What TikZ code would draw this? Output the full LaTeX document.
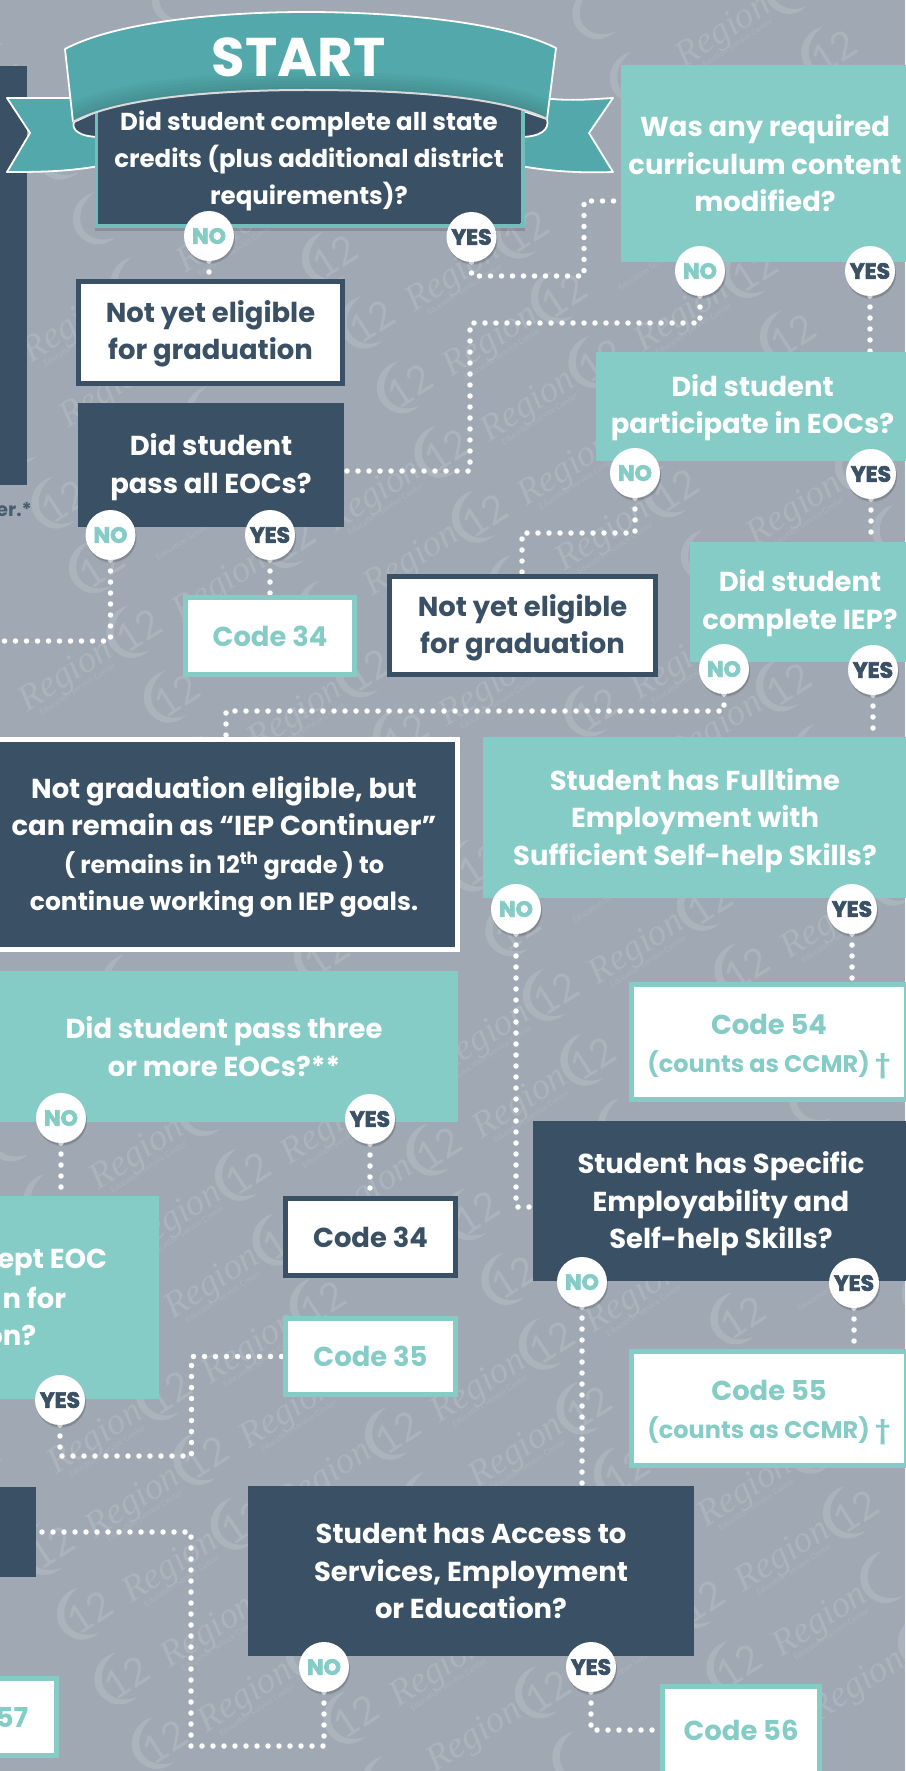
\documentclass[tikz,border=0pt]{standalone}
\usepackage{fontspec}
\setmainfont{Poppins}
\newfontfamily\wmfont{Liberation Serif}
\newfontfamily\numfont{Lato}
\newfontfamily\bubfont{Poppins}[BoldFeatures={FakeBold=3}]
\usetikzlibrary{shadows}
\definecolor{pagebg}{HTML}{A0A9B3}
\definecolor{wmcol}{HTML}{ABB3BC}
\definecolor{tealq}{HTML}{85CCC7}
\definecolor{darkq}{HTML}{3A5064}
\definecolor{ribbon}{HTML}{52A8AA}
\pgfdeclarelayer{under}
\pgfsetlayers{under,main}
\newcommand{\dn}[1]{\rule{0pt}{\dimexpr 20pt+#1pt+#1pt\relax}}
\tikzset{
  txt/.style={align=center,inner sep=0pt,outer sep=0pt,font=\fontsize{27.4}{37.4}\selectfont\bfseries},
  qdark/.style={txt,fill=darkq,text=white},
  qteal/.style={txt,fill=tealq,text=white},
  boxdark/.style={txt,fill=white,draw=darkq,line width=5pt,text=darkq},
  boxteal/.style={txt,fill=white,draw=tealq,line width=5pt,text=tealq},
  boxnote/.style={txt,fill=darkq,draw=white,line width=5pt,text=white},
  size/.style n args={2}{minimum width=#1,minimum height=#2},
  bubble/.style={circle,fill=white,minimum size=50pt,inner sep=0pt,outer sep=0pt,
    font=\fontsize{22}{24}\selectfont\bubfont\bfseries,
    drop shadow={shadow xshift=1pt,shadow yshift=-3pt,opacity=.08,fill=black,scale=1.12},
    drop shadow={shadow xshift=1pt,shadow yshift=-2pt,opacity=.12,fill=black,scale=1.05}},
  nob/.style={bubble,text=tealq},
  yesb/.style={bubble,text=darkq},
  dots/.style={draw=white,line width=5.5pt,line cap=round,dash pattern=on 0pt off 11pt},
  ribline/.style={draw=white,line width=1.8pt,line join=round},
  wmtext/.style={text=wmcol,inner sep=0pt,transform shape},
}
\newif\ifcovered
\newcommand{\testcovered}[2]{%
  \global\coveredfalse
  \foreach \a/\b/\c/\d in {0/66/27/485,76/279/345/386,78/403/344/527,621/65/905/262,596/352/905/461,690/542/905/662,387/574/658/677,182/595/357/677,0/737/460/952,483/737/905/898,629/982/905/1102,533/1121/905/1281,629/1349/905/1468,248/1486/694/1656,660/1684/822/1771,0/1676/60/1758,0/1487/36/1577,0/971/458/1122,0/1196/159/1399,283/1196/458/1278,283/1316/458/1397,60/10/615/228}{%
    \ifdim#1pt>\a pt \ifdim#1pt<\c pt \ifdim#2pt>\b pt \ifdim#2pt<\d pt \global\coveredtrue\fi\fi\fi\fi}}
\newcommand{\wmark}[2]{%
  \pgfmathsetmacro{\rx}{#1-65}\pgfmathsetmacro{\ry}{#2+42}
  \pgfmathsetmacro{\sx}{#1-63}\pgfmathsetmacro{\sy}{#2+59}
  \pgfmathtruncatemacro{\showN}{(#1>22)&&(#1<883)&&(#2>22)&&(#2<1749)?1:0}
  \pgfmathtruncatemacro{\showR}{(\rx>42)&&(\rx<863)&&(\ry>27)&&(\ry<1744)?1:0}
  \pgfmathtruncatemacro{\showS}{(\sx>45)&&(\sx<860)&&(\sy>30)&&(\sy<1741)?1:0}
  \begin{scope}[shift={(#1,#2)},rotate=33,x=1pt,y=1pt]
    \fill[wmcol] (10,25) .. controls (-12,33) and (-34,12) .. (-24,-10)
      .. controls (-20,-20) and (-10,-26) .. (4,-24)
      .. controls (-8,-22) and (-17,-14) .. (-19,-4)
      .. controls (-22,10) and (-8,24) .. (10,25) -- cycle;
    \testcovered{#1}{#2}
    \ifnum\showN=1 \ifcovered\else
      \node[wmtext,font=\fontsize{39}{40}\selectfont\numfont] at (6,-2) {12};
    \fi\fi
    \testcovered{\rx}{\ry}
    \ifnum\showR=1 \ifcovered\else
      \node[wmtext,font=\fontsize{37}{38}\selectfont\wmfont\itshape,anchor=east] at (-27,-1) {Region};
    \fi\fi
    \testcovered{\sx}{\sy}
    \ifnum\showS=1 \ifcovered\else
      \node[wmtext,font=\fontsize{8}{9}\selectfont\numfont,anchor=east] at (-33,-17) {Education Service Center};
    \fi\fi
  \end{scope}}
\begin{document}
\begin{tikzpicture}[x=1pt,y=-1pt]
\useasboundingbox (0,0) rectangle (905,1771);
\begin{pgfonlayer}{under}
  \fill[pagebg] (0,0) rectangle (905,1771);
  \begin{scope}
    \clip (0,0) rectangle (905,1771);
    \foreach \i in {-7,...,7}{\foreach \j in {-8,...,26}{
      \pgfmathsetmacro{\wx}{520+154*\i+37.5*\j}
      \pgfmathsetmacro{\wy}{233-90*\i+64.7*\j}
      \pgfmathtruncatemacro{\keep}{(\wx>-40)&&(\wx<1020)&&(\wy>-70)&&(\wy<1850)?1:0}
      \ifnum\keep=1 \wmark{\wx}{\wy}\fi
    }}
  \end{scope}
\end{pgfonlayer}

\node[qdark,size={40}{419}] (leftA) at (7,275.5) {};

% side pieces of the ribbon
\draw[ribline,fill=ribbon] (110,98) -- (7,98) -- (30,133) -- (7,172)
  .. controls (40,172) and (70,172) .. (110,164) -- cycle;
\draw[ribline,fill=ribbon] (510,99) -- (552,99) .. controls (575,101) and (595,99) .. (613,98) -- (589,133) -- (613,172)
  .. controls (580,173) and (550,172) .. (510,164) -- cycle;
\draw[ribline,fill=darkq] (74,122) .. controls (71,130) and (80,137) .. (100,137) -- (100,110) -- cycle;
\draw[ribline,fill=darkq] (547,119) .. controls (550,130) and (540,137) .. (520,137) -- (520,110) -- cycle;

% question under the ribbon
\fill[tealq!60!ribbon,drop shadow={shadow xshift=0pt,shadow yshift=-3pt,opacity=.15,fill=black}] (95,100) rectangle (525,228);
\fill[darkq] (99,85) rectangle (521,223);
\node[qdark,size={422}{127},font=\fontsize{24.5}{37.4}\selectfont\bfseries] (qS) at (309,161)
  {Did student complete all state\\credits (plus additional district\\requirements)?};

% front of the ribbon
\begin{scope}
  \clip (65,49) .. controls (120,20) and (230,12) .. (306,12) .. controls (385,12) and (500,20) .. (556,48)
     -- (547,119) .. controls (500,96) and (400,90) .. (306,90) .. controls (230,90) and (120,96) .. (73,122) -- cycle;
  \fill[ribbon] (60,5) rectangle (560,125);
  \foreach \w in {36,30,24,18,12,6}{
    \draw[black,opacity=.025,line width=\w pt] (73,122) .. controls (120,96) and (230,90) .. (306,90) .. controls (400,90) and (500,96) .. (547,119);}
\end{scope}
\draw[ribline] (73,122) -- (65,49) .. controls (120,20) and (230,12) .. (306,12) .. controls (385,12) and (500,20) .. (556,48) -- (547,119);
\draw[draw=white!85!black,line width=2pt] (73,122) .. controls (120,96) and (230,90) .. (306,90) .. controls (400,90) and (500,96) .. (547,119);
\node[text=white,font=\fontsize{54.5}{56}\selectfont\bfseries,inner sep=0pt] (startT) at (298.5,57) {START};

% boxes
\node[anchor=east,inner sep=0pt,text=darkq!85!pagebg,font=\fontsize{19}{22}\selectfont\bfseries] (noteA) at (32,510) {er.*};
\node[boxdark,size={264}{102}] (nyA) at (210.5,332.5) {\dn{2.5}Not yet eligible\\for graduation};
\node[qdark,size={266}{124}] (qE) at (211,465) {\dn{3}Did student\\pass all EOCs?};
\node[qteal,size={288}{197}] (qM) at (765,163.5) {Was any required\\curriculum content\\modified?};
\node[qteal,size={313}{109}] (qP) at (752.5,406.5) {\dn{2}Did student\\participate in EOCs?};
\node[qteal,size={220}{120}] (qI) at (800,602) {\dn{2}Did student\\complete IEP?};
\node[boxdark,size={266}{98}] (nyB) at (522.5,625.5) {\dn{3}Not yet eligible\\for graduation};
\node[boxteal,size={169.5}{77}] (cA) at (270,636) {Code 34};
\node[boxnote,size={467}{210}] (nG) at (224,844.5) {\dn{3.5}Not graduation eligible, but\\can remain as “IEP Continuer”\\{\fontsize{24}{37.4}\selectfont ( remains in 12\textsuperscript{th} grade ) to}\\{\fontsize{25}{37.4}\selectfont continue working on IEP goals.}};
\node[qteal,size={424}{161}] (qF) at (695,817.5) {\dn{3.8}Student has Fulltime\\Employment with\\Sufficient Self-help Skills?};
\node[boxteal,size={275}{115}] (cF) at (769,1042) {\dn{4.7}Code 54\\{\fontsize{24}{37.4}\selectfont (counts as CCMR) †}};
\node[qdark,size={376}{160}] (qS2) at (721,1201) {\dn{4}Student has Specific\\Employability and\\Self-help Skills?};
\node[boxteal,size={275}{114}] (cG) at (769,1408.5) {\dn{4.2}Code 55\\{\fontsize{24}{37.4}\selectfont (counts as CCMR) †}};
\node[qdark,size={446}{170}] (qA) at (471,1571) {Student has Access to\\Services, Employment\\or Education?};
\node[boxteal,size={157}{87}] (cH) at (741,1730) {Code 56};
\node[boxteal,size={89.5}{77}] (cI) at (12,1717) {57};
\node[qdark,size={42}{90}] (leftB) at (15,1532) {};
\node[qteal,size={468}{151}] (qT) at (224,1046.5) {Did student pass three\\or more EOCs?**};
\node[qteal,size={170}{203}] (qX) at (74,1297.5) {};
\node[anchor=east,txt,text=white] (xA) at (107,1262) {ept EOC};
\node[anchor=east,txt,text=white] (xB) at (66,1298) {n for};
\node[anchor=east,txt,text=white] (xC) at (36,1335) {on?};
\node[boxdark,size={170}{77}] (cB) at (370.5,1237) {Code 34};
\node[boxteal,size={170}{76}] (cC) at (370.5,1356.5) {Code 35};

% bubbles
\node[nob]  (noS)   at (209,236)  {NO};
\node[yesb] (yesS)  at (471.5,237) {YES};
\node[nob]  (noM)   at (700,271)  {NO};
\node[yesb] (yesM)  at (870,271)  {YES};
\node[nob]  (noP)   at (635,473)  {NO};
\node[yesb] (yesP)  at (871,474)  {YES};
\node[nob]  (noI)   at (724,669)  {NO};
\node[yesb] (yesI)  at (873,670)  {YES};
\node[nob]  (noF)   at (516,909)  {NO};
\node[yesb] (yesF)  at (852,909)  {YES};
\node[nob]  (noSp)  at (582,1282) {NO};
\node[yesb] (yesSp) at (854,1283) {YES};
\node[nob]  (noA)   at (324,1667) {NO};
\node[yesb] (yesA)  at (591,1667) {YES};
\node[nob]  (noT)   at (61,1118)  {NO};
\node[yesb] (yesT)  at (370,1119) {YES};
\node[yesb] (yesX)  at (60,1400)  {YES};
\node[nob]  (noE)   at (110.5,535) {NO};
\node[yesb] (yesE)  at (270,535)  {YES};

% elbows
\coordinate (e1) at (584,276);
\coordinate (e1b) at (625,201);
\coordinate (e2) at (470,323);
\coordinate (e2b) at (344,471);
\coordinate (e3) at (522,533);
\coordinate (e4) at (226,711);
\coordinate (e5) at (536,1207);
\coordinate (e6) at (191,1746);
\coordinate (e7) at (191.5,1456);
\coordinate (e8) at (0,641);

\begin{pgfonlayer}{under}
  \draw[dots] (noS) -- (noS |- nyA.north);
  \draw[dots] (yesS) |- (e1) |- (e1b);
  \draw[dots] (noM) |- (e2) |- (e2b);
  \draw[dots] (yesM) -- (yesM |- qP.north);
  \draw[dots] (noP) |- (e3) -- (e3 |- nyB.north);
  \draw[dots] (yesP) -- (yesP |- qI.north);
  \draw[dots] (noI) |- (e4) -- (e4 |- nG.north);
  \draw[dots] (yesI) -- (yesI |- qF.north);
  \draw[dots] (noF) |- (e5);
  \draw[dots] (yesF) -- (yesF |- cF.north);
  \draw[dots] (noSp) -- (noSp |- qA.north);
  \draw[dots] (yesSp) -- (yesSp |- cG.north);
  \draw[dots] (noA) |- (e6) |- (leftB.east);
  \draw[dots] (yesA) |- (cH.west);
  \draw[dots] (noT) -- (noT |- qX.north);
  \draw[dots] (yesT) -- (yesT |- cB.north);
  \draw[dots] (yesX) |- (e7) |- (cC.west);
  \draw[dots] (noE) |- (e8);
  \draw[dots] (yesE) -- (yesE |- cA.north);
\end{pgfonlayer}
\end{tikzpicture}
\end{document}
